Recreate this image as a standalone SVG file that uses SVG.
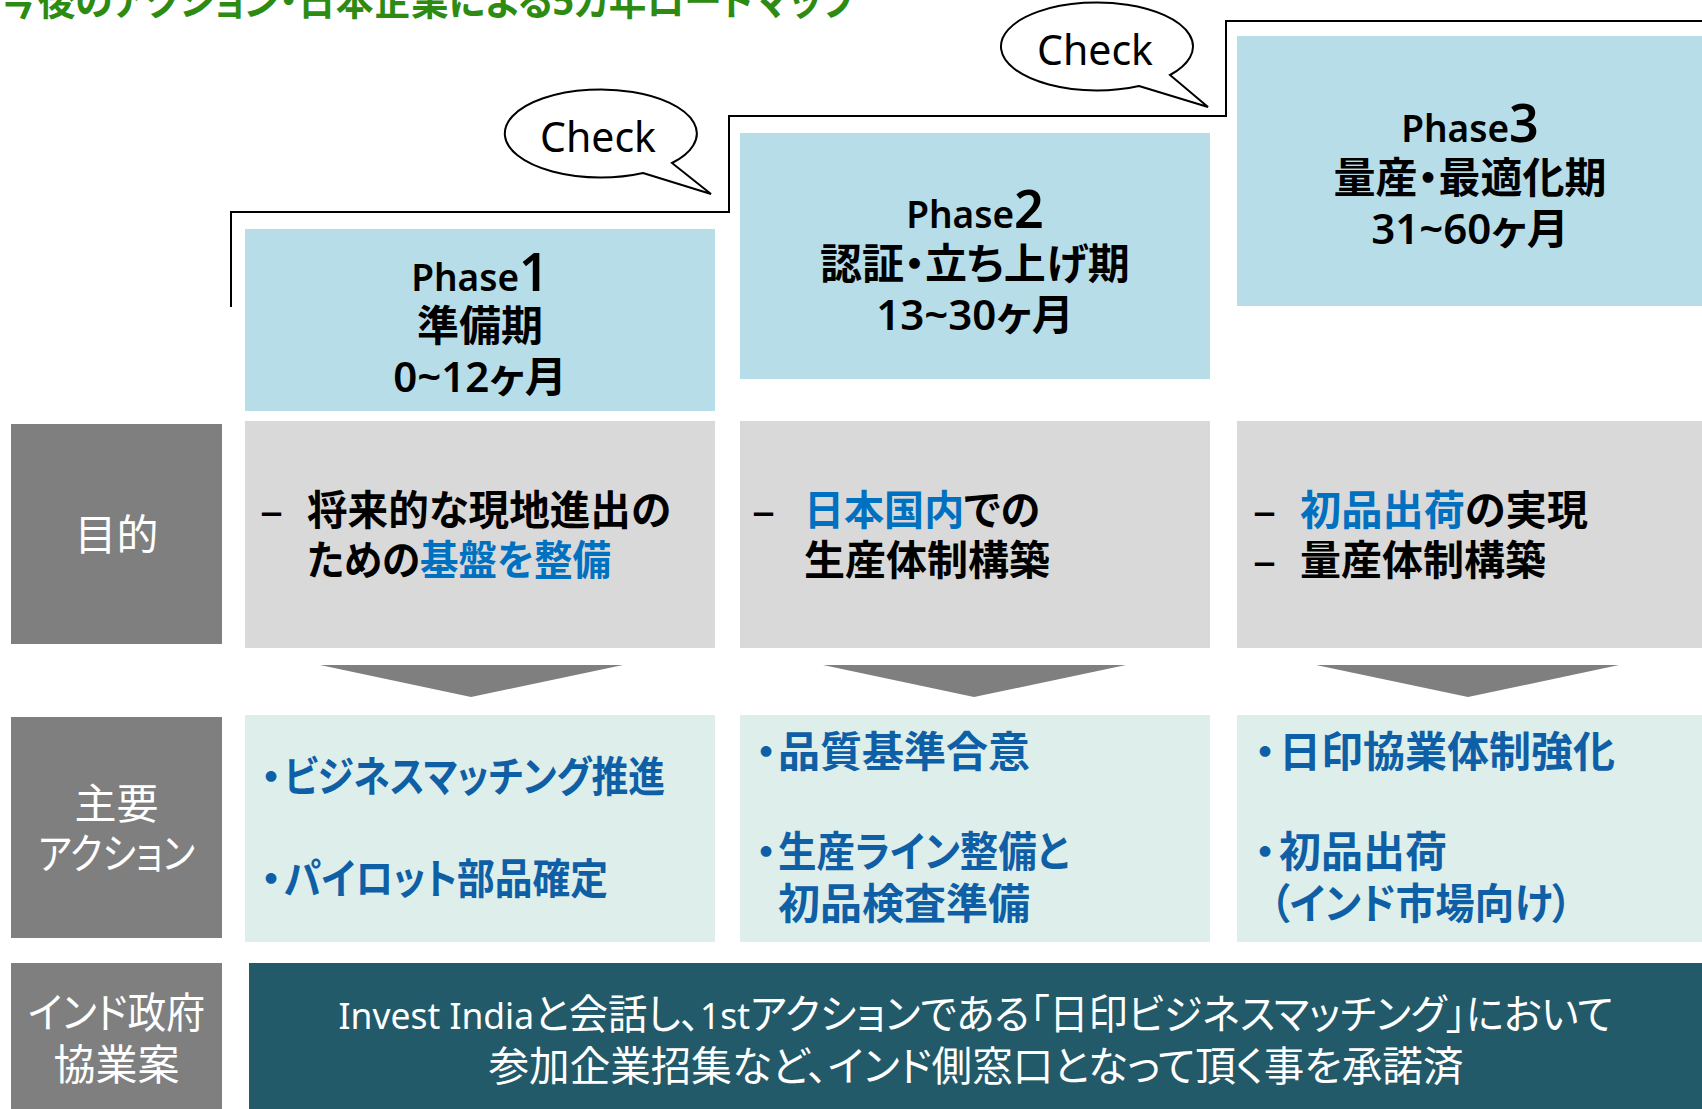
<svg xmlns="http://www.w3.org/2000/svg" width="1702" height="1109" viewBox="0 0 1702 1109">
<style>
text { font-family: "Noto Sans", "Noto Sans CJK JP", sans-serif; font-feature-settings: "palt"; }
.bg { fill: #FFFFFF; }
.phase { fill: #B7DDE8; }
.goal { fill: #D9D9D9; }
.lab { fill: #7F7F7F; }
.act { fill: #DEEEEA; }
.gov { fill: #225A69; }
.tri { fill: #7F7F7F; }
.step { fill: none; stroke: #000; stroke-width: 2; }
.bubble { fill: #FFFFFF; stroke: #000; stroke-width: 2; stroke-linejoin: miter; }
.chk { font-size: 41px; fill: #000; text-anchor: middle; }
.pt { font-size: 42px; fill: #000; text-anchor: middle; font-weight: 600; }
.pl { font-size: 37px; }
.pn { font-size: 52px; }
.lt { font-size: 42px; fill: #FFFFFF; text-anchor: middle; }
.gt { font-size: 41px; fill: #000; font-weight: bold; }
.dash { font-size: 46px; fill: #000; }
.blue { fill: #0070C0; }
.at { font-size: 42px; fill: #0F5FA6; font-weight: bold; }
.bul { font-size: 42px; fill: #0F5FA6; font-weight: bold; text-anchor: middle; }
.bt { font-size: 41px; fill: #FFFFFF; text-anchor: middle; }
.bl { font-size: 37px; }
.title { font-size: 40px; fill: #2E8B12; font-weight: bold; }
</style>
<rect class="bg" x="0" y="0" width="1702" height="1109"/>

<g id="title">
<text class="title" x="0" y="15" textLength="856" lengthAdjust="spacingAndGlyphs">今後のアクション・日本企業による5カ年ロードマップ</text>
</g>

<g id="connectors">
<path class="step" d="M231,307 V212 H729 V116 H1226 V21 H1702"/>
<polygon class="tri" points="320,665 623,665 471,697"/>
<polygon class="tri" points="823,665 1126,665 974,697"/>
<polygon class="tri" points="1316,665 1619,665 1468,697"/>
</g>

<g id="bubble1">
<path class="bubble" d="M643,173 L711,194 L672,163 A96,44 0 1 0 643,173 Z"/>
<text class="chk" x="598" y="152">Check</text>
</g>
<g id="bubble2">
<path class="bubble" d="M1139,86 L1208,107 L1170,75 A96,44 0 1 0 1139,86 Z"/>
<text class="chk" x="1095" y="65">Check</text>
</g>

<g id="phase1">
<rect class="phase" x="245" y="229" width="470" height="182"/>
<text class="pt" x="480" y="291"><tspan class="pl">Phase</tspan><tspan class="pn">1</tspan></text>
<text class="pt" x="480" y="341">準備期</text>
<text class="pt" x="480" y="392">0~12ヶ月</text>
</g>
<g id="phase2">
<rect class="phase" x="740" y="133" width="470" height="246"/>
<text class="pt" x="975" y="228"><tspan class="pl">Phase</tspan><tspan class="pn">2</tspan></text>
<text class="pt" x="975" y="279">認証・立ち上げ期</text>
<text class="pt" x="975" y="330">13~30ヶ月</text>
</g>
<g id="phase3">
<rect class="phase" x="1237" y="36" width="465" height="270"/>
<text class="pt" x="1470" y="142"><tspan class="pl">Phase</tspan><tspan class="pn">3</tspan></text>
<text class="pt" x="1470" y="193">量産・最適化期</text>
<text class="pt" x="1470" y="244">31~60ヶ月</text>
</g>

<g id="label-goal">
<rect class="lab" x="11" y="424" width="211" height="220"/>
<text class="lt" x="116.5" y="550">目的</text>
</g>
<g id="goal1">
<rect class="goal" x="245" y="421" width="470" height="227"/>
<text class="dash" x="260" y="526">–</text>
<text class="gt" x="307" y="525" textLength="364" lengthAdjust="spacingAndGlyphs">将来的な現地進出の</text>
<text class="gt" x="307" y="575" textLength="304" lengthAdjust="spacingAndGlyphs">ための<tspan class="blue">基盤を整備</tspan></text>
</g>
<g id="goal2">
<rect class="goal" x="740" y="421" width="470" height="227"/>
<text class="dash" x="752" y="526">–</text>
<text class="gt" x="804" y="525" textLength="236" lengthAdjust="spacingAndGlyphs"><tspan class="blue">日本国内</tspan>での</text>
<text class="gt" x="804" y="575">生産体制構築</text>
</g>
<g id="goal3">
<rect class="goal" x="1237" y="421" width="465" height="227"/>
<text class="dash" x="1253" y="526">–</text>
<text class="gt" x="1300" y="525" textLength="288" lengthAdjust="spacingAndGlyphs"><tspan class="blue">初品出荷</tspan>の実現</text>
<text class="dash" x="1253" y="576">–</text>
<text class="gt" x="1300" y="575">量産体制構築</text>
</g>

<g id="label-action">
<rect class="lab" x="11" y="717" width="211" height="221"/>
<text class="lt" x="116.5" y="819">主要</text>
<text class="lt" x="116.5" y="869" textLength="157" lengthAdjust="spacingAndGlyphs">アクション</text>
</g>
<g id="action1">
<rect class="act" x="245" y="715" width="470" height="227"/>
<text class="bul" x="271" y="792">・</text>
<text class="at" x="284" y="792" textLength="381" lengthAdjust="spacingAndGlyphs">ビジネスマッチング推進</text>
<text class="bul" x="271" y="894">・</text>
<text class="at" x="284" y="894" textLength="324" lengthAdjust="spacingAndGlyphs">パイロット部品確定</text>
</g>
<g id="action2">
<rect class="act" x="740" y="715" width="470" height="227"/>
<text class="bul" x="766" y="767">・</text>
<text class="at" x="778" y="767">品質基準合意</text>
<text class="bul" x="766" y="867">・</text>
<text class="at" x="778" y="867" textLength="291" lengthAdjust="spacingAndGlyphs">生産ライン整備と</text>
<text class="at" x="778" y="919">初品検査準備</text>
</g>
<g id="action3">
<rect class="act" x="1237" y="715" width="465" height="227"/>
<text class="bul" x="1265" y="767">・</text>
<text class="at" x="1279" y="767">日印協業体制強化</text>
<text class="bul" x="1265" y="867">・</text>
<text class="at" x="1279" y="867">初品出荷</text>
<text class="at" x="1270" y="919" textLength="302" lengthAdjust="spacingAndGlyphs">（インド市場向け）</text>
</g>

<g id="label-gov">
<rect class="lab" x="11" y="963" width="211" height="146"/>
<text class="lt" x="116.5" y="1028" textLength="177" lengthAdjust="spacingAndGlyphs">インド政府</text>
<text class="lt" x="116.5" y="1080">協業案</text>
</g>
<g id="gov">
<rect class="gov" x="249" y="963" width="1453" height="146"/>
<text class="bt" x="976" y="1029" textLength="1275" lengthAdjust="spacingAndGlyphs"><tspan class="bl">Invest India</tspan>と会話し、<tspan class="bl">1st</tspan>アクションである「日印ビジネスマッチング」において</text>
<text class="bt" x="976" y="1081" textLength="975" lengthAdjust="spacingAndGlyphs">参加企業招集など、インド側窓口となって頂く事を承諾済</text>
</g>
</svg>
